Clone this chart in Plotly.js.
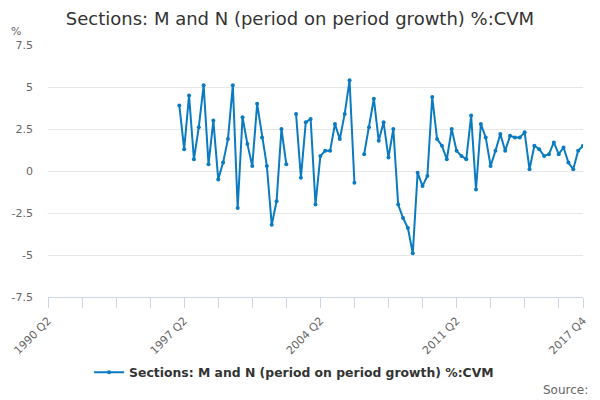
<!DOCTYPE html>
<html>
<head>
<meta charset="utf-8">
<script src="https://cdn.plot.ly/plotly-3.0.1.min.js"></script>
<style>
  html, body { margin: 0; padding: 0; background: #fff; }
  #chart { width: 600px; height: 400px; }
</style>
</head>
<body>
<div id="chart"></div>
<script>
// quarter labels 1990 Q2 .. 2017 Q4
const firstYear = 1990
const firstQuarter = 2
const lastYear = 2017
const lastQuarter = 4

// growth %, 1997 Q1 .. 2017 Q4 (null = no value published)
const growth = [
  3.9, 1.3, 4.5, 0.7, 2.6, 5.1, 0.4, 3.0, -0.5, 0.5,
  1.9, 5.1, -2.2, 3.2, 1.6, 0.3, 4.0, 2.0, 0.3, -3.2,
  -1.8, 2.5, 0.4, null,
  3.4, -0.4, 2.9, 3.1, -2.0, 0.9, 1.2, 1.2, 2.8, 1.9,
  3.4, 5.4, -0.7, null,
  1.0, 2.6, 4.3, 1.8, 2.9, 0.8, 2.5, -2.0, -2.8, -3.4,
  -4.9, -0.1, -0.9, -0.3, 4.4, 1.9, 1.5, 0.7, 2.5, 1.2,
  0.9, 0.7, 3.3, -1.1, 2.8, 2.0, 0.3, 1.2, 2.2, 1.2,
  2.1, 2.0, 2.0, 2.3, 0.1, 1.5, 1.3, 0.9, 1.0, 1.7,
  1.0, 1.4, 0.5, 0.1, 1.2, 1.5
]
const seriesStart = '1997 Q1'

const labelledTicks = ['1990 Q2', '1997 Q2', '2004 Q2', '2011 Q2', '2017 Q4']
const yTicks = [-7.5, -5, -2.5, 0, 2.5, 5, 7.5]
const yTickText = ['-7.5', '-5', '-2.5', '0', '2.5', '5', '7.5']

const seriesName = 'Sections: M and N (period on period growth) %:CVM'

const quarters = []
for (let y = firstYear; y <= lastYear; y++) {
    for (let q = 1; q <= 4; q++) {
        if (y === firstYear && q < firstQuarter) continue
        if (y === lastYear && q > lastQuarter) continue
        quarters.push(y + ' Q' + q)
    }
}
const startIdx = quarters.indexOf(seriesStart)
const xData = quarters.slice(startIdx, startIdx + growth.length)

// a tick every 7 quarters plus the last one, labels only on some
const tickVals = quarters.filter((q, i) => i % 7 === 0 || i === quarters.length - 1)
const tickText = tickVals.map(q => labelledTicks.includes(q) ? q : '')

const lineColor = '#0b7bc1'
const font = 'DejaVu Sans, sans-serif'

const data = [{
    x: xData,
    y: growth,
    type: 'scatter',
    mode: 'lines+markers',
    name: seriesName,
    connectgaps: false,
    line: { color: lineColor, width: 2 },
    marker: { color: lineColor, size: 4 },
    hoverinfo: 'x+y'
}]

const layout = {
    width: 600,
    height: 400,
    paper_bgcolor: '#ffffff',
    plot_bgcolor: '#ffffff',
    font: { family: font, color: '#666666', size: 11 },
    title: {
        text: seriesName,
        font: { family: font, size: 18, color: '#333333' },
        x: 0.5,
        xanchor: 'center',
        y: 0.953,
        yanchor: 'middle'
    },
    margin: { l: 48, r: 17, t: 45, b: 103, pad: 0 },
    showlegend: true,
    legend: {
        orientation: 'h',
        x: 0.46,
        xanchor: 'center',
        y: -0.30,
        yanchor: 'middle',
        font: { family: font, size: 12.4, color: '#333333', weight: 'bold' },
        itemwidth: 30
    },
    xaxis: {
        type: 'category',
        categoryorder: 'array',
        categoryarray: quarters,
        range: [0, quarters.length - 1],
        tickmode: 'array',
        tickvals: tickVals,
        ticktext: tickText,
        tickangle: -45,
        ticks: 'outside',
        ticklen: 10,
        tickwidth: 1,
        tickcolor: '#ccd6eb',
        ticklabelstandoff: 2,
        showline: true,
        linecolor: '#ccd6eb',
        linewidth: 1,
        showgrid: false,
        zeroline: false,
        tickfont: { family: font, size: 11, color: '#666666' },
        fixedrange: true
    },
    yaxis: {
        range: [-7.5, 7.5],
        tickmode: 'array',
        tickvals: yTicks,
        ticktext: yTickText,
        showgrid: true,
        gridcolor: '#e6e6e6',
        gridwidth: 1,
        zeroline: false,
        showline: false,
        ticks: '',
        ticklabelstandoff: 14,
        tickfont: { family: font, size: 11, color: '#666666' },
        fixedrange: true
    },
    annotations: [
        {
            text: '%',
            xref: 'paper', yref: 'paper',
            x: -0.06, y: 1.052,
            xanchor: 'center', yanchor: 'middle',
            showarrow: false,
            font: { family: font, size: 11, color: '#666666' }
        },
        {
            text: 'Source:',
            xref: 'paper', yref: 'paper',
            x: 1.013, y: -0.37,
            xanchor: 'right', yanchor: 'middle',
            showarrow: false,
            font: { family: font, size: 12, color: '#666666' }
        }
    ]
}

Plotly.newPlot('chart', data, layout, { displayModeBar: false, responsive: false })
</script>
</body>
</html>
